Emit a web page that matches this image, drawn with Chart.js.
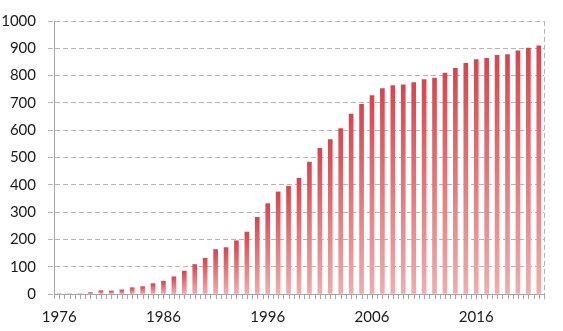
<!DOCTYPE html>
<html>
<head>
<meta charset="utf-8">
<script src="https://cdn.jsdelivr.net/npm/chart.js@4/dist/chart.umd.min.js"></script>
<style>
  html, body { margin: 0; padding: 0; background: #fff; }
  #wrap { width: 563px; height: 331px; position: relative; }
</style>
</head>
<body>
<div id="wrap"><canvas id="chart"></canvas></div>
<script>
// Data
const years = [];
for (let y = 1976; y <= 2022; y++) years.push(String(y));

const values = [
    0, 0, 0, 5, 12, 11, 15, 23, 27, 38,
    47, 63, 84, 108, 131, 163, 170, 195, 227, 281,
    331, 374, 395, 424, 483, 534, 566, 606, 659, 695,
    727, 752, 763, 766, 774, 785, 791, 809, 827, 845,
    859, 863, 874, 877, 891, 901, 909
];

const yTicks = [0, 100, 200, 300, 400, 500, 600, 700, 800, 900, 1000];
const labelEvery = 10;

const gridColor = '#b4b4b4';
const axisColor = '#a6a6a6';

// Per-bar vertical gradient, dark red on top, pale pink at the base
function barGradient(ctx) {
    const chart = ctx.chart;
    const yScale = chart.scales.y;
    if (!yScale || ctx.raw == null) return '#e07a80';
    const top = yScale.getPixelForValue(ctx.raw);
    const base = yScale.getPixelForValue(0);
    if (!isFinite(top) || base - top < 1) return '#e06068';
    const g = chart.ctx.createLinearGradient(0, top, 0, base);
    g.addColorStop(0, '#d9444c');
    g.addColorStop(1, '#efadad');
    return g;
}

// Tick marks every half category under the x axis, plus dashed right border
const extras = {
    id: 'extras',
    afterDraw(chart) {
        const { ctx, chartArea } = chart;
        const step = (chartArea.right - chartArea.left) / years.length;
        ctx.save();
        ctx.strokeStyle = axisColor;
        ctx.lineWidth = 1;
        ctx.beginPath();
        for (let i = 0; i <= years.length * 2; i++) {
            const px = Math.round(chartArea.left + i * step / 2) + 0.5;
            ctx.moveTo(px, chartArea.bottom);
            ctx.lineTo(px, chartArea.bottom + 5);
        }
        ctx.stroke();

        ctx.strokeStyle = gridColor;
        ctx.setLineDash([5, 3]);
        ctx.beginPath();
        const rx = Math.round(chartArea.right) + 0.5;
        ctx.moveTo(rx, chartArea.top);
        ctx.lineTo(rx, chartArea.bottom);
        ctx.stroke();
        ctx.restore();
    }
};

const fontFamily = 'Lato, "Open Sans", sans-serif';

new Chart(document.getElementById('chart'), {
    type: 'bar',
    data: {
        labels: years,
        datasets: [{
            data: values,
            backgroundColor: barGradient,
            borderWidth: 0,
            barThickness: 4
        }]
    },
    options: {
        responsive: true,
        maintainAspectRatio: false,
        animation: false,
        layout: { padding: { top: 14, right: 19, left: 0, bottom: 0 } },
        plugins: {
            legend: { display: false },
            tooltip: { enabled: false }
        },
        scales: {
            x: {
                grid: { display: false, drawTicks: false },
                border: { display: true, color: axisColor, width: 1 },
                ticks: {
                    autoSkip: false,
                    maxRotation: 0,
                    padding: 14,
                    color: '#1a1a1a',
                    font: { family: fontFamily, size: 15 },
                    callback: (v, i) => (i % labelEvery === 0 ? years[i] : '')
                },
                afterFit: (s) => { s.height = 37; }
            },
            y: {
                min: 0,
                max: 1000,
                afterBuildTicks: (s) => { s.ticks = yTicks.map(v => ({ value: v })); },
                grid: {
                    color: gridColor,
                    lineWidth: 1,
                    tickLength: 6,
                    tickBorderDash: [5, 3],
                    drawTicks: true
                },
                border: { display: true, color: axisColor, width: 1, dash: [5, 3] },
                ticks: {
                    padding: 12,
                    color: '#1a1a1a',
                    font: { family: fontFamily, size: 15 },
                    callback: (v) => String(v)
                },
                afterFit: (s) => { s.width = 54; }
            }
        }
    },
    plugins: [extras]
});
</script>
</body>
</html>
